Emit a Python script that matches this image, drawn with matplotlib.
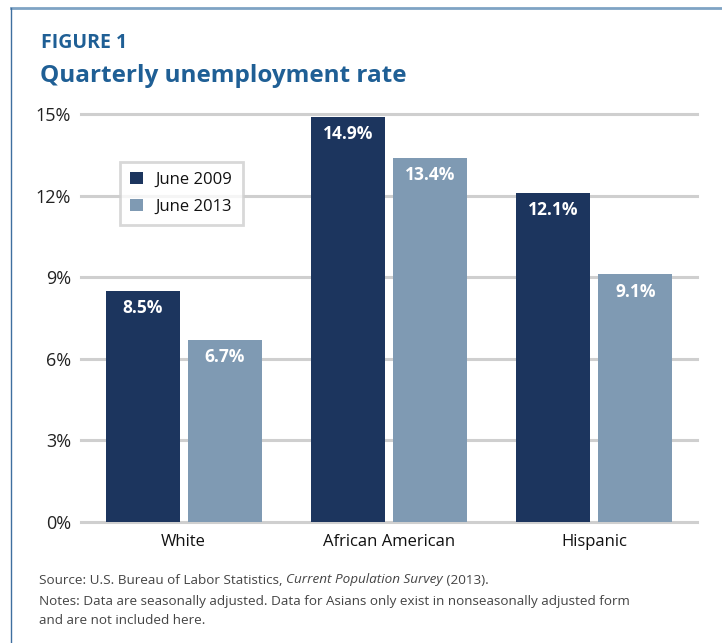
import matplotlib.pyplot as plt
import numpy as np
from matplotlib.lines import Line2D

plt.rcParams['font.family'] = ['Open Sans', 'DejaVu Sans']

groups = ["White", "African American", "Hispanic"]
june_2009 = [8.5, 14.9, 12.1]
june_2013 = [6.7, 13.4, 9.1]
series_names = ["June 2009", "June 2013"]
y_ticks = [0, 3, 6, 9, 12, 15]

DARK = "#1c355e"
LIGHT = "#7f9ab3"
GRID = "#cfcfcf"
BLUE = "#1f5f95"

W, H = 722, 643
fig = plt.figure(figsize=(W / 100, H / 100), dpi=100)
ax = fig.add_axes([81 / W, (H - 522) / H, 616 / W, 408 / H])

x = np.arange(len(groups))
width = 0.36
b1 = ax.bar(x - 0.2, june_2009, width, color=DARK, label=series_names[0], zorder=3)
b2 = ax.bar(x + 0.2, june_2013, width, color=LIGHT, label=series_names[1], zorder=3)

for bars in (b1, b2):
    for rect in bars:
        v = rect.get_height()
        ax.annotate("%.1f%%" % v, (rect.get_x() + rect.get_width() / 2, v),
                    xytext=(0, -12.5), textcoords="offset points",
                    ha="center", va="center", color="white",
                    fontsize=12.5, fontweight="bold", zorder=4)

for t in y_ticks:
    ax.axhline(t, color=GRID, linewidth=2.2, zorder=1 if t else 2, clip_on=False)

ax.set_xlim(-0.5, 2.5)
ax.set_ylim(0, 15)
ax.set_yticks(y_ticks)
ax.set_yticklabels(["%d%%" % t for t in y_ticks], fontsize=13, color="#222222")
ax.set_xticks(x)
ax.set_xticklabels(groups, fontsize=12, color="#111111")
ax.tick_params(axis="both", length=0)
ax.tick_params(axis="y", pad=7)
ax.tick_params(axis="x", pad=9)
for s in ax.spines.values():
    s.set_visible(False)

leg = ax.legend(loc="upper left", bbox_to_anchor=((120 - 81) / 616, (522 - 162) / 408),
                fontsize=12, frameon=True, fancybox=False, handlelength=0.75,
                handleheight=0.75, handletextpad=0.8, borderpad=0.6, labelspacing=0.65,
                borderaxespad=0)
leg.get_frame().set_edgecolor(GRID)
leg.get_frame().set_linewidth(2)
for t in leg.get_texts():
    t.set_color("#111111")

# frame around the figure
fig.add_artist(Line2D([11 / W, 1], [1 - 8 / H, 1 - 8 / H], color="#7fa3c4", linewidth=2))
fig.add_artist(Line2D([11 / W, 11 / W], [0, 1 - 8 / H], color="#3f6f9f", linewidth=1))

fig.text(41 / W, 1 - 43.5 / H, "FIGURE 1", fontsize=14, fontweight="bold", color=BLUE, va="center")
fig.text(40 / W, 1 - 76 / H, "Quarterly unemployment rate", fontsize=17.5, fontweight="bold",
         color=BLUE, va="center")

foot_color = "#444444"
fs = 9.7
t0 = fig.text(39 / W, 1 - 580 / H, "Source: U.S. Bureau of Labor Statistics, ", fontsize=fs,
              color=foot_color, va="center")
fig.canvas.draw()
r = fig.canvas.get_renderer()
x0 = t0.get_window_extent(r).x1
t1 = fig.text(x0 / W, 1 - 580 / H, "Current Population Survey", fontsize=fs, style="italic",
              color=foot_color, va="center")
x1 = t1.get_window_extent(r).x1
fig.text(x1 / W, 1 - 580 / H, " (2013).", fontsize=fs, color=foot_color, va="center")
fig.text(39 / W, 1 - 602 / H, "Notes: Data are seasonally adjusted. Data for Asians only exist in nonseasonally adjusted form",
         fontsize=fs, color=foot_color, va="center")
fig.text(39 / W, 1 - 621 / H, "and are not included here.", fontsize=fs, color=foot_color, va="center")

fig.savefig("out.png", dpi=100)
